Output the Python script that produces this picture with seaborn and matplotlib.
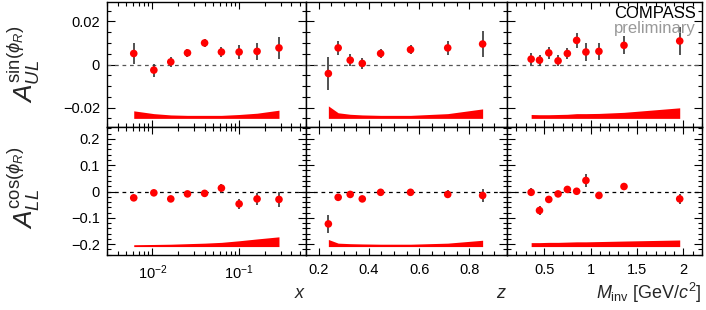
import matplotlib
matplotlib.use("Agg")
import matplotlib.pyplot as plt
import matplotlib.ticker as ticker
import seaborn as sns
import pandas as pd
import numpy as np

# kinematic bins
x_bins = [0.0061, 0.0104, 0.0163, 0.0254, 0.040, 0.0625, 0.100, 0.161, 0.288]
z_bins = [0.239, 0.278, 0.326, 0.374, 0.447, 0.566, 0.714, 0.853]
m_bins = [0.36, 0.45, 0.55, 0.65, 0.75, 0.85, 0.95, 1.09, 1.36, 1.96]

# A_UL^{sin(phi_R)}
aul_x = [0.0051, -0.0026, 0.0012, 0.0054, 0.0100, 0.0058, 0.0058, 0.0061, 0.0077]
aul_x_err = [0.0048, 0.0030, 0.0023, 0.0020, 0.0020, 0.0023, 0.0034, 0.0040, 0.0052]
aul_x_sys = [0.0035, 0.0022, 0.0016, 0.0014, 0.0014, 0.0014, 0.0018, 0.0024, 0.0038]

aul_z = [-0.0042, 0.0077, 0.0020, 0.0005, 0.0051, 0.0069, 0.0077, 0.0095]
aul_z_err = [0.0075, 0.0032, 0.0027, 0.0026, 0.0020, 0.0020, 0.0032, 0.0060]
aul_z_sys = [0.0058, 0.0026, 0.0019, 0.0016, 0.0014, 0.0014, 0.0022, 0.0044]

aul_m = [0.0025, 0.0020, 0.0054, 0.0017, 0.0051, 0.0112, 0.0058, 0.0061, 0.0089, 0.0109]
aul_m_err = [0.0027, 0.0025, 0.0027, 0.0026, 0.0026, 0.0034, 0.0040, 0.0038, 0.0042, 0.0067]
aul_m_sys = [0.0018, 0.0017, 0.0017, 0.0018, 0.0019, 0.0022, 0.0022, 0.0023, 0.0028, 0.0049]

# A_LL^{cos(phi_R)}
all_x = [-0.024, -0.005, -0.028, -0.009, -0.007, 0.013, -0.047, -0.028, -0.030]
all_x_err = [0.010, 0.007, 0.008, 0.010, 0.013, 0.017, 0.020, 0.023, 0.027]
all_x_sys = [0.007, 0.008, 0.009, 0.011, 0.013, 0.016, 0.022, 0.029, 0.037]

all_z = [-0.123, -0.022, -0.011, -0.028, -0.003, -0.003, -0.011, -0.015]
all_z_err = [0.034, 0.011, 0.009, 0.010, 0.008, 0.008, 0.015, 0.024]
all_z_sys = [0.027, 0.013, 0.011, 0.010, 0.009, 0.009, 0.013, 0.024]

all_m = [-0.003, -0.072, -0.030, -0.009, 0.008, 0.001, 0.042, -0.015, 0.019, -0.028]
all_m_err = [0.015, 0.018, 0.012, 0.011, 0.010, 0.012, 0.025, 0.012, 0.013, 0.020]
all_m_sys = [0.015, 0.015, 0.016, 0.016, 0.017, 0.018, 0.018, 0.019, 0.021, 0.025]

sns.set_theme(style="ticks")
plt.rcParams['font.family'] = ['Liberation Sans', 'DejaVu Sans']
plt.rcParams['mathtext.fontset'] = 'custom'
plt.rcParams['mathtext.rm'] = 'Liberation Sans'
plt.rcParams['mathtext.it'] = 'Liberation Sans:italic'
plt.rcParams['mathtext.bf'] = 'Liberation Sans:bold'
plt.rcParams['axes.linewidth'] = 1.0

fig = plt.figure(figsize=(7.06, 3.10), dpi=100)
W, H = 706.0, 310.0
col_px = [(107, 306), (306, 507), (507, 702)]
row_px = [(2, 127), (127, 255)]

rows = [
    [(x_bins, aul_x, aul_x_err, aul_x_sys), (z_bins, aul_z, aul_z_err, aul_z_sys), (m_bins, aul_m, aul_m_err, aul_m_sys)],
    [(x_bins, all_x, all_x_err, all_x_sys), (z_bins, all_z, all_z_err, all_z_sys), (m_bins, all_m, all_m_err, all_m_sys)],
]
ylims = [(-0.029, 0.029), (-0.241, 0.245)]
sys_base = [-0.025, -0.209]
xlims = [(0.003, 0.59), (0.15, 0.95), (0.1, 2.2)]
zero_col = ['#555555', 'black']

for r in range(2):
    for c in range(3):
        x0, x1 = col_px[c]
        y0, y1 = row_px[r]
        ax = fig.add_axes([x0 / W, 1 - y1 / H, (x1 - x0) / W, (y1 - y0) / H])
        xv, yv, ev, sv = rows[r][c]
        df = pd.DataFrame({'bin': xv, 'asym': yv, 'err': ev, 'sys': sv})
        base = sys_base[r]
        ax.fill_between(df['bin'], base, base + df['sys'], color='#ff0000', lw=0, zorder=1)
        ax.axhline(0, color=zero_col[r], ls=(0, (3, 3)), lw=0.9, zorder=1)
        ax.errorbar(df['bin'], df['asym'], yerr=df['err'], fmt='none', ecolor='#333333',
                    elinewidth=1.2, capsize=0, zorder=2)
        sns.scatterplot(data=df, x='bin', y='asym', ax=ax, color='#ff0000', s=30,
                        edgecolor='none', linewidth=0, zorder=3)
        ax.set_xlabel('')
        ax.set_ylabel('')
        if c == 0:
            ax.set_xscale('log')
        ax.set_xlim(*xlims[c])
        ax.set_ylim(*ylims[r])
        if r == 0:
            ax.yaxis.set_major_locator(ticker.MultipleLocator(0.02))
            ax.yaxis.set_minor_locator(ticker.MultipleLocator(0.005))
            ax.yaxis.set_major_formatter(ticker.FuncFormatter(
                lambda v, p: '0' if abs(v) < 1e-9 else ('%.2f' % v).replace('-', '\u2212')))
        else:
            ax.yaxis.set_major_locator(ticker.MultipleLocator(0.1))
            ax.yaxis.set_minor_locator(ticker.MultipleLocator(0.02))
            ax.yaxis.set_major_formatter(ticker.FuncFormatter(
                lambda v, p: '0' if abs(v) < 1e-9 else ('%.1f' % v).replace('-', '\u2212')))
        if c == 1:
            ax.xaxis.set_major_locator(ticker.MultipleLocator(0.2))
            ax.xaxis.set_minor_locator(ticker.MultipleLocator(0.05))
            ax.xaxis.set_major_formatter(ticker.FormatStrFormatter('%.1f'))
        elif c == 2:
            ax.xaxis.set_major_locator(ticker.FixedLocator([0.5, 1, 1.5, 2]))
            ax.xaxis.set_minor_locator(ticker.MultipleLocator(0.1))
            ax.xaxis.set_major_formatter(ticker.FixedFormatter(['0.5', '1', '1.5', '2']))
        ax.tick_params(which='both', direction='in', top=True, right=True, labelsize=10.5,
                       colors='black', width=0.8)
        ax.tick_params(axis='y', which='major', length=6, pad=5)
        ax.tick_params(axis='y', which='minor', length=3)
        ax.tick_params(axis='x', which='major', length=5, pad=6)
        ax.tick_params(axis='x', which='minor', length=3)
        if c > 0:
            ax.tick_params(axis='y', labelleft=False)
        if r == 0:
            ax.tick_params(axis='x', labelbottom=False)
        for s in ax.spines.values():
            s.set_color('black')
            s.set_linewidth(1.0)

fig.text(24 / W, 1 - 64 / H, r'$A_{UL}^{\sin(\phi_R)}$', rotation=90, ha='center', va='center', fontsize=19)
fig.text(24 / W, 1 - 188 / H, r'$A_{LL}^{\cos(\phi_R)}$', rotation=90, ha='center', va='center', fontsize=19)

fig.text(300 / W, 1 - 293 / H, r'$x$', ha='center', va='center', fontsize=13)
fig.text(501 / W, 1 - 293 / H, r'$z$', ha='center', va='center', fontsize=13)
fig.text(702 / W, 1 - 293 / H, r'$M_{\rm inv}$ [GeV/$c^2$]', ha='right', va='center', fontsize=13)

fig.text(696 / W, 1 - 13 / H, 'COMPASS', ha='right', va='center', fontsize=12, color='black')
fig.text(696 / W, 1 - 28 / H, 'preliminary', ha='right', va='center', fontsize=12, color='#999999')

fig.savefig('out.png', dpi=100)
